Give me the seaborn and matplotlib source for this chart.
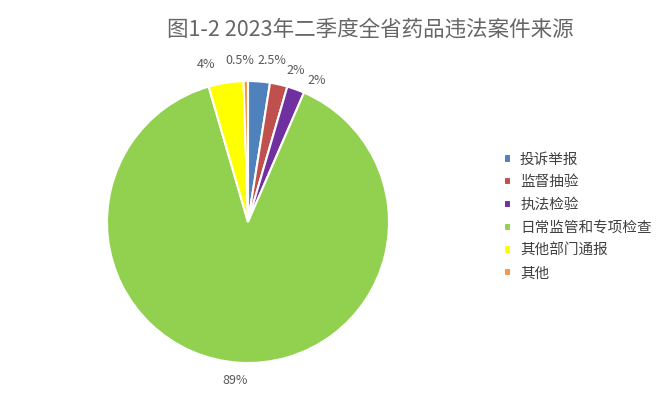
import matplotlib
matplotlib.use('Agg')
import numpy as np
import matplotlib.pyplot as plt
import seaborn as sns

# data
categories = ['投诉举报', '监督抽验', '执法检验', '日常监管和专项检查', '其他部门通报', '其他']
values = [2.5, 2, 2, 89, 4, 0.5]
colors = ['#4F81BD', '#C0504D', '#7030A0', '#92D050', '#FFFF00', '#F79646']
title = '图1-2 2023年二季度全省药品违法案件来源'

sns.set_style('white')
plt.rcParams['font.family'] = ['Noto Sans CJK SC', 'DejaVu Sans']

W, H = 669, 396
fig = plt.figure(figsize=(W / 100, H / 100), dpi=100)

# pie centre (248, 222) px, radius 141 px
cx, cy, r = 248, 222, 141
lim = 1.2
half = lim * r
ax = fig.add_axes([(cx - half) / W, (H - cy - half) / H, 2 * half / W, 2 * half / H])

wedges, _ = ax.pie(values, colors=colors, startangle=90, counterclock=False,
                   wedgeprops=dict(edgecolor='white', linewidth=1.5))
ax.set_xlim(-lim, lim)
ax.set_ylim(-lim, lim)
ax.set_aspect('equal')
ax.axis('off')

# outside-end labels, nudged a bit like excel does (pixels)
nudges = [(11.5, 1.5), (13, -5), (14.5, -9.5), (-3, 1), (-16.5, -1), (-5.5, 1)]
for w, v, (dx, dy) in zip(wedges, values, nudges):
    ang = np.deg2rad((w.theta1 + w.theta2) / 2)
    x, y = 1.135 * np.cos(ang), 1.135 * np.sin(ang)
    ax.annotate(f'{v:g}%', xy=(x, y), xytext=(dx, dy), textcoords='offset pixels',
                ha='center', va='center', fontsize=9, color='#595959',
                annotation_clip=False)

fig.text(370 / W, 1 - 30 / H, title, ha='center', va='center',
         fontsize=15.5, color='#666666')

fig.legend(wedges, categories, loc='center left',
           bbox_to_anchor=(504 / W, 1 - 216.5 / H),
           frameon=False, fontsize=10.5, labelcolor='#404040',
           handlelength=0.5, handleheight=0.5, handletextpad=0.6,
           labelspacing=0.6, borderpad=0, borderaxespad=0)

fig.savefig('out.png', dpi=100)
